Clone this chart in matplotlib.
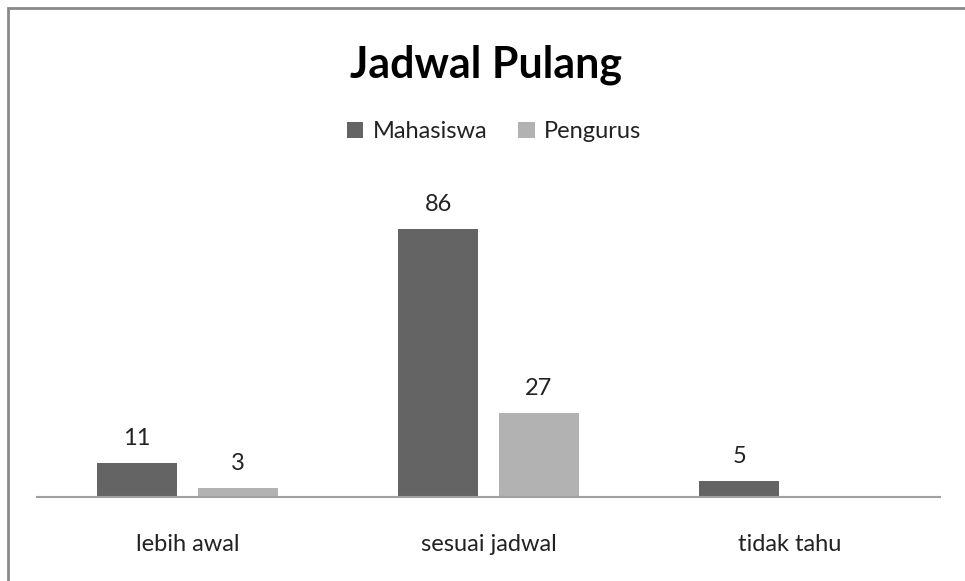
import numpy as np
import matplotlib
matplotlib.use("Agg")
import matplotlib.pyplot as plt
from matplotlib.patches import Rectangle

plt.rcParams["font.family"] = ["Lato", "DejaVu Sans"]

# 데이터
categories = ["lebih awal", "sesuai jadwal", "tidak tahu"]
mahasiswa = [11, 86, 5]
pengurus = [3, 27, 0]
series_names = ["Mahasiswa", "Pengurus"]
colors = ["#646464", "#b2b2b2"]

fig = plt.figure(figsize=(9.65, 5.81), dpi=100)
ax = fig.add_axes([0.0383, 0.1446, 0.9357, 0.537])

x = np.arange(len(categories))
w = 0.266
off = 0.167
for vals, dx, c, name in zip([mahasiswa, pengurus], [-off, off], colors, series_names):
    bars = ax.bar(x + dx, vals, width=w, color=c, label=name)
    for b, v in zip(bars, vals):
        if v == 0:
            continue
        ax.annotate(str(v), (b.get_x() + b.get_width() / 2, v),
                    xytext=(0, 10), textcoords="offset points",
                    ha="center", va="bottom", fontsize=17, color="#222222")

ax.set_xlim(-0.5, 2.5)
ax.set_ylim(0, 100)
ax.set_xticks(x)
ax.set_xticklabels(categories, fontsize=17, color="#222222")
ax.tick_params(axis="x", length=0, pad=27)
ax.set_yticks([])
for s in ["top", "right", "left"]:
    ax.spines[s].set_visible(False)
ax.spines["bottom"].set_color("#a0a0a0")
ax.spines["bottom"].set_linewidth(1.5)

fig.text(0.504, 0.888, "Jadwal Pulang", ha="center", va="center",
         fontsize=31, fontweight="bold", color="black")
fig.legend(loc="center", bbox_to_anchor=(0.512, 0.773), ncol=2, frameon=False,
           fontsize=17, handlelength=0.7, handleheight=0.7, handletextpad=0.4,
           columnspacing=1.3, labelcolor="#222222")

# 바깥 테두리 (위/왼쪽만 보임)
fig.patches.append(Rectangle((8 / 965, -0.1), 1.2, 1 - 8 / 581 + 0.1,
                             transform=fig.transFigure, fill=False,
                             edgecolor="#8a8a8a", linewidth=2))

fig.savefig("out.png", dpi=100)
